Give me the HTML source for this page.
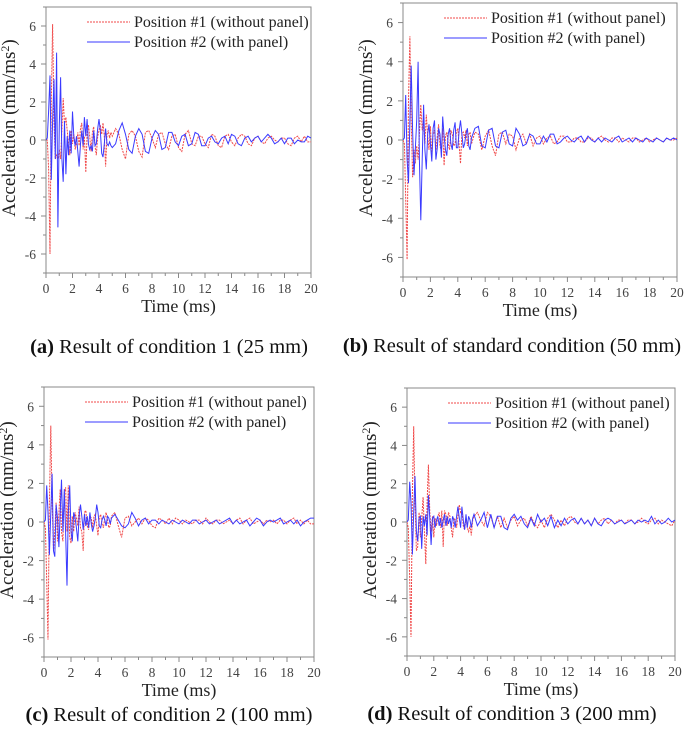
<!DOCTYPE html>
<html><head><meta charset="utf-8">
<style>
html,body{margin:0;padding:0;background:#fff;}
svg{display:block;font-family:"Liberation Serif",serif;}
</style></head>
<body>
<svg id="fig" width="685" height="731" viewBox="0 0 685 731" xmlns="http://www.w3.org/2000/svg"></svg>
<script>
const yTicks = [-6,-4,-2,0,2,4,6];
const xTicks = [0,2,4,6,8,10,12,14,16,18,20];
const seriesNames = ["Position #1 (without panel)","Position #2 (with panel)"];
const panelIds = ["a","b","c","d"];
const captionBold = ["(a)","(b)","(c)","(d)"];
const captionText = [" Result of condition 1 (25 mm)"," Result of standard condition (50 mm)"," Result of condition 2 (100 mm)"," Result of condition 3 (200 mm)"];

const aRed = [0,0,-1.5,-6,2,6.1,1,-1,-0.8,-1,-0.5,-1,0.5,2.2,0.8,1.2,0.5,-0.2,-0.8,0.5,-0.2,0.3,-0.5,-0.2,0.4,-0.3,0.6,0.9,-0.5,0.2,-1.7,0.3,0.8,0.2,-0.6,0.4,0.7,-0.3,-0.8,0.2,0.5,0.8,0.3,0.9,0.2,-1.4,0.3,0.5,0.1,0.4,0.2,
0.6,0.3,-0.5,-1,0.3,0.5,0.2,-0.6,-0.9,0.4,0.5,0.1,-0.4,0.3,0.4,-0.2,-0.5,0.2,0.3,-0.4,-0.6,0.3,0.5,-0.2,-0.3,0.2,0.2,-0.2,-0.4,0.3,0.2,-0.3,-0.4,0.2,0.3,-0.1,-0.3,0.1,0.3,0.2,-0.2,-0.3,0.1,0.2,-0.1,-0.2,0.1,0.2,0,-0.1,0.1,0.1,-0.2,-0.3,0.1,0.2,-0.1,0.2,-0.1,-0.1];
const aBlue = [0,0.1,1.5,3.4,-2.1,1,3.2,-1,4.6,-4.6,0.8,3.3,-1,-2.2,1,-1.8,0.2,-0.8,0.5,-0.7,1.5,0.2,-0.3,0.2,-0.6,-1.4,-0.2,0.5,-0.3,1.2,0.2,1.1,-0.2,-0.5,-0.3,-0.6,0.5,-0.3,-0.2,0.6,1.1,0.5,-0.7,-0.9,-0.2,0.6,-0.2,-0.3,-0.1,-0.3,-0.4,
-0.2,0.5,0.9,0.3,-0.5,-0.7,0.2,0.6,0.3,-0.6,-0.7,0.1,0.5,0.3,-0.5,-0.4,0.4,0.4,-0.1,-0.3,0.2,0.3,-0.3,-0.2,0.4,0.3,-0.3,-0.3,0.1,0.2,-0.1,-0.2,0.1,0.2,-0.2,0.3,0.2,-0.2,-0.3,0.1,0.2,-0.1,0.1,0.2,-0.1,0.1,0.3,0.1,-0.2,-0.1,0.1,-0.2,0.1,0.1,-0.2,0,-0.1,-0.1,0.2,0.1];
const bRed = [0,-0.2,-3,-6.1,2,5.3,1,-1.9,-0.5,-1.2,-0.3,-1,0.3,1.8,0.5,1.1,-0.2,1.3,0.2,-0.5,0.7,-0.8,0.3,0.5,-0.5,0.2,0.8,-0.3,-0.6,0.6,-1.3,0.2,0.4,-0.2,-0.5,0.5,0.3,-0.3,-0.2,0.4,0.6,-0.3,-1.2,0.3,0.4,0.1,0.5,-0.3,0.3,0.4,-0.2,
0.4,0.3,-0.5,0.2,0.5,-0.3,-0.8,0.3,0.4,-0.2,0.3,0.2,-0.5,0.1,0.3,-0.2,0.3,-0.3,0.1,0.2,-0.2,0.1,0.2,-0.2,-0.1,0.2,0.2,-0.1,-0.1,0.1,0.1,-0.1,-0.1,0.1,0.1,-0.1,0.1,0.2,0,-0.1,0.1,0.1,-0.1,0.1,0,-0.1,0.1,0.1,-0.1,0,0.1,-0.1,0,0.1,0,-0.1,0.1,0,0,0.1];
const bBlue = [0,0.1,2.3,-1,-2.2,1,3.8,0.5,-1.8,-0.5,1,4,-1,-4.1,-1,1.8,-0.5,-1.5,0.3,0.8,-0.2,-1.1,0.6,1,-1,-0.4,0.6,0.3,-0.9,1.2,0.2,-0.5,-0.8,0.3,0.6,-0.2,-0.5,0.5,0.9,-0.4,-0.4,0.5,1,0.3,-0.4,-0.2,0.3,0.6,-0.3,-0.5,0.1,
0.6,0.7,-0.3,-0.4,0.5,0.6,-0.3,-0.4,0.4,0.5,-0.2,-0.3,0.6,0.3,-0.3,-0.2,0.3,0.2,-0.2,-0.2,0.2,-0.1,0.3,0.3,-0.2,-0.1,0.1,0.2,0,-0.1,0.1,0.2,-0.1,0.2,0,-0.1,0.1,-0.1,0.1,0,-0.1,0.1,0.2,-0.1,0,0.1,-0.1,0.1,0,-0.1,0.1,0,-0.1,0.1,0,-0.1,0.1,0,0.1,0];
const cRed = [0,-0.3,-3,-6.1,1,5,1,-1.5,-0.5,1,-1,0.5,1.7,-0.5,-1,1.5,1.8,-0.5,1.9,-0.8,-1.1,0.3,-0.5,0.5,0.2,-0.2,0.8,-0.3,-0.5,-1.5,0.5,0.6,-0.2,-0.4,0.3,0.2,-0.3,0.3,0.4,-0.2,-0.7,0.2,0.4,-0.1,-0.3,0.2,0.5,0.1,-0.3,-0.2,0.3,
0.5,-0.2,-0.8,0.2,0.3,-0.2,0,0.2,-0.1,0.2,0.1,-0.2,-0.3,0.2,0.1,-0.1,0.2,-0.1,0.2,0.1,-0.1,0.1,0,-0.1,0.1,0.1,-0.1,0.2,0,-0.1,0.1,0.1,-0.1,0,0.1,-0.1,0.1,0.2,-0.1,0.1,0.2,-0.1,0,0.1,-0.1,0.1,0,0.1,-0.1,0.1,0.1,-0.1,0.1,0.2,-0.1,0.1,-0.1,0.1,-0.1,-0.1];
const cBlue = [0,0.1,1.9,0.5,-1.7,0.5,2.5,-1.5,-1.8,0.9,0.2,-1.3,0.5,2.2,-0.5,1.7,-0.5,-3.3,0.5,1.9,-0.5,-1,0.5,0.2,-0.3,-1,0.3,0.9,0.3,-0.4,0.4,-0.2,0.3,-0.3,0.5,-0.1,-0.5,-0.2,0.2,0.9,0.5,-0.2,-0.3,0.1,0.3,0.1,-0.2,0.3,0.2,-0.1,0.2,
0.4,0.1,-0.2,-0.3,-0.1,0.5,0.2,-0.2,0.1,0.2,-0.1,0.1,0.1,-0.1,0.1,0,-0.1,0.1,0,-0.1,0.1,0,-0.1,0.1,0.1,-0.1,0,0.1,-0.1,0,0.1,-0.1,0,0.1,0.2,-0.1,0.1,-0.1,0,0.1,-0.2,0,0.2,0.1,-0.2,0,0.1,0,0.1,0.2,-0.1,0,0.1,-0.1,0.1,-0.2,0,0.1,0.2,0.2];
const dRed = [0,-0.3,-3,-6,1.5,5,1,-1.5,-1.3,0.5,-0.8,0.2,1.3,-0.5,-2.2,1,3,0.5,-0.5,0.3,-0.8,0.2,-0.2,0.3,0.5,-0.3,0.6,-1.3,0.6,0.4,-0.2,0.5,0.3,-0.3,-0.8,0.2,0.1,-0.3,0.3,0.9,0.5,0.6,-0.2,-0.4,0.2,-0.3,-0.5,-0.2,-0.7,0.1,0.3,
0.5,0.1,-0.2,0.5,0.3,-0.3,0.3,-0.3,0.2,-0.3,0.1,0.3,-0.2,0.1,0.2,-0.2,0.3,-0.1,-0.3,0.1,-0.3,0.2,0.4,0.1,-0.3,0.1,-0.2,0.2,0.3,0,-0.1,0.2,-0.1,0.1,-0.2,0.2,-0.1,0.1,0.2,-0.1,0.1,-0.1,0.1,0.1,-0.1,0.1,0.1,-0.1,0,0.2,0,-0.1,0.1,0.2,-0.1,0.1,0,-0.1,-0.2,0.1];
const dBlue = [0,0.1,2.1,1,-1.7,0.5,2.4,-0.5,-1,0.2,0.3,-1.4,0.3,-0.2,0.4,-0.7,1.4,0.2,-1.2,0.2,0.3,-0.3,0.1,0.3,-0.2,0.2,-0.3,0.1,0.4,-0.2,0.3,-0.1,0.2,-0.3,0.3,0.1,-0.3,0.3,0.8,0.2,-0.3,0.8,0.1,-0.4,0.4,-0.3,0.3,0.1,-0.3,0.2,0.4,
-0.2,0.1,0.5,-0.3,0.4,-0.3,0.3,0.3,-0.3,-0.4,0.2,0.4,0.1,0.3,-0.1,-0.3,0.2,-0.2,0.4,0,0.2,-0.2,0.3,-0.3,0.1,-0.2,0.2,-0.1,0.1,0.2,-0.1,0.2,-0.1,0.1,-0.2,0.2,-0.1,-0.2,0.1,0.2,0.1,-0.1,0,0.1,-0.1,0,0.1,-0.1,0.1,0,0.1,0,0.3,-0.1,0.1,-0.1,0,0.2,0,0.1];

const panelRed = [aRed,bRed,cRed,dRed];
const panelBlue = [aBlue,bBlue,cBlue,dBlue];

const boxes = [
 {l:46,r:311,t:7,b:273,cx:169,cy:353},
 {l:403,r:677,t:3,b:277,cx:512,cy:352},
 {l:44,r:314,t:387,b:657,cx:169,cy:721},
 {l:407,r:675,t:388,b:656,cx:512,cy:720}
];
const NS="http://www.w3.org/2000/svg";
const svg=document.getElementById('fig');
function mk(tag,attrs,parent,text){const e=document.createElementNS(NS,tag);for(const k in attrs)e.setAttribute(k,attrs[k]);if(text!==undefined)e.textContent=text;(parent||svg).appendChild(e);return e;}
function timeAt(i){return i<=50? i*0.1 : 5+(i-50)*0.25;}

boxes.forEach((B,pi)=>{
  const g=mk('g',{});
  
  
  const xS=t=>B.l+(t/20)*(B.r-B.l);
  const yS=v=>B.b-((v+7)/14)*(B.b-B.t);
  const clipId='clip'+pi;
  const cp=mk('clipPath',{id:clipId},g);
  mk('rect',{x:B.l,y:B.t,width:B.r-B.l,height:B.b-B.t},cp);
  const fr=mk('rect',{x:B.l,y:B.t,width:B.r-B.l,height:B.b-B.t,fill:'none',stroke:'#888','stroke-width':1},g);
  
  
  for(let v=-7;v<=7;v++){
    const major=yTicks.includes(v);
    mk('line',{x1:B.l-(major?5:3),x2:B.l,y1:yS(v),y2:yS(v),stroke:'#888','stroke-width':1},g);
  }
  yTicks.forEach(v=>{
    const t=mk('text',{x:B.l-10,y:yS(v)+5,'text-anchor':'end','font-size':13.5,fill:'#444'},g,String(v));
    
    
  });
  for(let v=0;v<=20;v++){
    const major=xTicks.includes(v);
    mk('line',{x1:xS(v),x2:xS(v),y1:B.b,y2:B.b+(major?5:3),stroke:'#888','stroke-width':1},g);
  }
  xTicks.forEach(v=>{
    const t=mk('text',{x:xS(v),y:B.b+20,'text-anchor':'middle','font-size':13.5,fill:'#444'},g,String(v));
    
    
  });
  const xt=mk('text',{x:(B.l+B.r)/2,y:B.b+39,'text-anchor':'middle','font-size':18,fill:'#222'},g,'Time (ms)');
  
  
  const yc=(B.t+B.b)/2-12;
  const yt=mk('text',{x:0,y:0,'text-anchor':'middle','font-size':19,fill:'#222',transform:`translate(${B.l-31},${yc}) rotate(-90)`},g);
  
  
  yt.appendChild(document.createTextNode('Acceleration (mm/ms'));
  mk('tspan',{dy:-6,'font-size':12},yt,'2');
  mk('tspan',{dy:6},yt,')');
  const mkLine=(arr,color,dash,name)=>{
    const pts=arr.map((v,i)=>xS(timeAt(i)).toFixed(1)+','+yS(v).toFixed(1)).join(' ');
    const p=mk('polyline',{points:pts,fill:'none',stroke:color,'stroke-width':1,'clip-path':`url(#${clipId})`},g);
    if(dash)p.setAttribute('stroke-dasharray',dash);
    
    
  };
  mkLine(panelRed[pi],'#f04848','2,1','series-position-1');
  mkLine(panelBlue[pi],'#3a3aff',null,'series-position-2');
  const lg=mk('g',{},g);
  
  
  const ly=B.t+15;
  mk('line',{x1:B.l+41,x2:B.l+84,y1:ly,y2:ly,stroke:'#f04848','stroke-width':1,'stroke-dasharray':'2,1'},lg);
  const l1=mk('text',{x:B.l+88,y:ly+5,'font-size':16,fill:'#222'},lg,seriesNames[0]);
  
  
  mk('line',{x1:B.l+41,x2:B.l+84,y1:ly+20,y2:ly+20,stroke:'#3a3aff','stroke-width':1},lg);
  const l2=mk('text',{x:B.l+88,y:ly+25,'font-size':16,fill:'#222'},lg,seriesNames[1]);
  
  
  const cap=mk('text',{x:B.cx,y:B.cy,'text-anchor':'middle','font-size':20.5,fill:'#111'},svg);
  
  
  mk('tspan',{'font-weight':'bold'},cap,captionBold[pi]);
  mk('tspan',{},cap,captionText[pi]);
});
</script>
</body></html>
